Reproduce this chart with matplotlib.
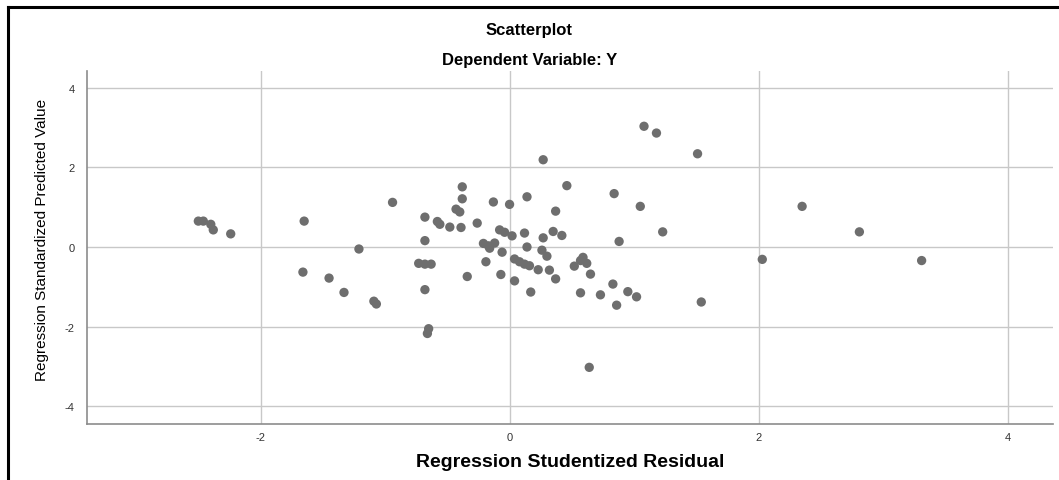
#!/usr/bin/env python3
"""
SPSS-style residual scatterplot: studentized residual vs standardized predicted value
"""

import matplotlib

matplotlib.use("Agg")
import matplotlib.pyplot as plt
from matplotlib.lines import Line2D

# values
resid = [
    -2.50, -2.46, -2.40, -2.38, -2.24, -1.65, -1.66, -1.45, -1.33, -1.09,
    -1.07, -1.21, -0.94, -0.73, -0.68, -0.63, -0.68, -0.68, -0.68, -0.65,
    -0.66, -0.58, -0.56, -0.48, -0.39, -0.43, -0.40, -0.38, -0.38, -0.26,
    -0.34, -0.21, -0.17, -0.12, -0.16, -0.19, -0.13, -0.08, -0.04, 0.02,
    0.00, -0.06, -0.07, 0.04, 0.04, 0.08, 0.12, 0.16, 0.12, 0.14,
    0.14, 0.17, 0.23, 0.32, 0.26, 0.30, 0.27, 0.27, 0.35, 0.37,
    0.42, 0.37, 0.46, 0.52, 0.59, 0.57, 0.62, 0.65, 0.57, 0.64,
    0.73, 0.83, 0.84, 0.88, 0.86, 0.95, 1.02, 1.05, 1.08, 1.18,
    1.23, 1.51, 1.54, 2.03, 2.35, 2.81, 3.31,
]
pred = [
    0.65, 0.65, 0.57, 0.43, 0.33, 0.65, -0.63, -0.78, -1.14, -1.36,
    -1.43, -0.05, 1.12, -0.41, -0.43, -0.43, 0.75, 0.16, -1.07, -2.05,
    -2.17, 0.64, 0.57, 0.50, 0.49, 0.95, 0.88, 1.51, 1.21, 0.60,
    -0.74, 0.09, 0.03, 0.10, -0.03, -0.37, 1.13, 0.43, 0.37, 0.28,
    1.07, -0.13, -0.69, -0.85, -0.30, -0.37, -0.43, -0.47, 0.35, 1.26,
    0.00, -1.13, -0.57, -0.58, -0.08, -0.23, 0.23, 2.19, 0.39, 0.90,
    0.29, -0.80, 1.54, -0.48, -0.26, -0.34, -0.41, -0.68, -1.15, -3.02,
    -1.20, -0.93, 1.34, 0.14, -1.46, -1.12, -1.25, 1.02, 3.03, 2.86,
    0.38, 2.34, -1.38, -0.31, 1.02, 0.38, -0.34,
]

xticks = [-2, 0, 2, 4]
yticks = [-4, -2, 0, 2, 4]

title = "Scatterplot"
subtitle = "Dependent Variable: Y"
xlabel = "Regression Studentized Residual"
ylabel = "Regression Standardized Predicted Value"


def main():
    plt.rcParams["font.family"] = ["Liberation Sans", "DejaVu Sans"]
    plt.rcParams["axes.unicode_minus"] = False

    fg = plt.figure(figsize=(10.59, 4.81), dpi=100)
    ax = fg.add_axes([0.0822, 0.1164, 0.9121, 0.7339])

    ax.scatter(resid, pred, s=45, color="#6e6e6e", edgecolors="none", zorder=3)

    ax.set_xlim(-3.394, 4.365)
    ax.set_ylim(-4.442, 4.417)
    ax.set_xticks(xticks)
    ax.set_yticks(yticks)
    ax.tick_params(length=0, labelsize=8, colors="#333333")
    ax.tick_params(axis="x", pad=6)
    ax.tick_params(axis="y", pad=9)
    ax.grid(True, color="#c8c8c8", linewidth=1.0)
    ax.set_axisbelow(True)

    for side in ("top", "right"):
        ax.spines[side].set_visible(False)
    for side in ("left", "bottom"):
        ax.spines[side].set_color("#8c8c8c")
        ax.spines[side].set_linewidth(1.2)

    ax.set_xlabel(xlabel, fontsize=14, fontweight="bold", labelpad=8)
    ax.set_ylabel(ylabel, fontsize=11)
    ax.yaxis.set_label_coords(-0.039, 0.525)

    fg.text(0.5, 1 - 31 / 481, title, ha="center", va="center",
            fontsize=12, fontweight="bold")
    fg.text(0.5, 1 - 60 / 481, subtitle, ha="center", va="center",
            fontsize=12, fontweight="bold")

    # outer frame, cut off at the bottom and right like the screenshot
    fx, fy = 8 / 1059, 1 - 8 / 481
    fg.add_artist(Line2D([fx, 1.0], [fy, fy], transform=fg.transFigure,
                         color="black", linewidth=2.2))
    fg.add_artist(Line2D([fx, fx], [0.0, fy], transform=fg.transFigure,
                         color="black", linewidth=2.2))

    fg.savefig("out.png", dpi=100)


if __name__ == "__main__":
    main()
